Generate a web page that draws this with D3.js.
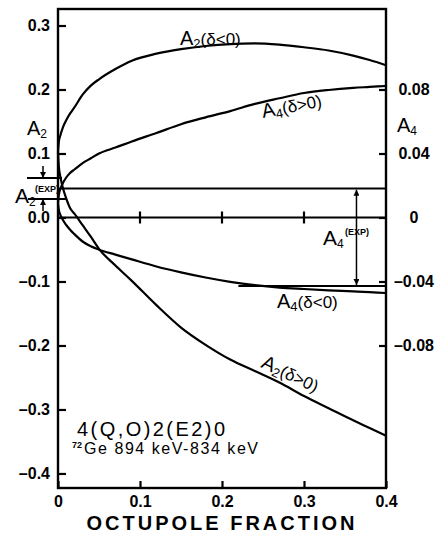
<!DOCTYPE html>
<html><head><meta charset="utf-8">
<script src="https://cdn.jsdelivr.net/npm/d3@7"></script>
<style>
body{margin:0;background:#fff}
svg{display:block}
text{font-family:"Liberation Sans",Arial,sans-serif;fill:#000}
</style>
</head><body>
<svg id="c" width="438" height="533"></svg>
<script>
// ---- data ----
const fraction = [0, 0.001, 0.003, 0.006, 0.01, 0.015, 0.02, 0.03, 0.04, 0.05, 0.07, 0.09, 0.12, 0.15, 0.18, 0.21, 0.24, 0.27, 0.30, 0.33, 0.36, 0.38, 0.40];
const a2DeltaNeg = [0.102, 0.118, 0.129, 0.141, 0.152, 0.163, 0.172, 0.192, 0.206, 0.216, 0.232, 0.245, 0.256, 0.263, 0.268, 0.271, 0.272, 0.270, 0.266, 0.261, 0.253, 0.246, 0.238];
const a2DeltaPos = [0.102, 0.080, 0.063, 0.046, 0.030, 0.014, 0.006, -0.012, -0.030, -0.049, -0.075, -0.099, -0.137, -0.172, -0.199, -0.222, -0.240, -0.258, -0.279, -0.298, -0.317, -0.329, -0.341];
const a4DeltaPos = [0.009, 0.014, 0.018, 0.0215, 0.025, 0.028, 0.030, 0.034, 0.037, 0.040, 0.0437, 0.0475, 0.0528, 0.0583, 0.0626, 0.0665, 0.071, 0.0745, 0.0778, 0.0797, 0.081, 0.0816, 0.0822];
const a4DeltaNeg = [0.009, 0.0047, 0.0015, -0.0016, -0.0047, -0.0078, -0.0104, -0.0150, -0.0180, -0.0201, -0.0232, -0.0262, -0.0306, -0.0343, -0.0375, -0.0402, -0.0423, -0.0438, -0.0447, -0.0455, -0.0462, -0.0467, -0.0472];

const xTicks = [0, 0.1, 0.2, 0.3, 0.4];
const xTickLabels = ["0", "0.1", "0.2", "0.3", "0.4"];
const a2Ticks = [0.3, 0.2, 0.1, 0, -0.1, -0.2, -0.3, -0.4];
const a2TickLabels = ["0.3", "0.2", "0.1", "0.0", "\u20130.1", "\u20130.2", "\u20130.3", "\u20130.4"];
const a4Ticks = [0.08, 0.04, 0, -0.04, -0.08];
const a4TickLabels = ["0.08", "0.04", "0", "\u20130.04", "\u20130.08"];
const zeroLineTicks = [0.1, 0.2, 0.3];

const a2Exp = 0.0453, a2ExpHi = 0.0617, a2ExpLo = 0.0289;
const a4ExpHi = 0.018, a4ExpLo = -0.0428;

// ---- scales ----
const svg = d3.select("#c");
const x = d3.scaleLinear([0, 0.4], [58, 386]);
const yA2 = d3.scaleLinear([-0.4227, 0.3258], [488, 9]);
const yA4 = d3.scaleLinear([-0.16906, 0.13031], [488, 9]);

const SW = 2.2;

// frame
svg.append("rect").attr("x", x(0)).attr("y", yA2(0.3258)).attr("width", x(0.4) - x(0)).attr("height", yA2(-0.4227) - yA2(0.3258))
  .attr("fill", "none").attr("stroke", "#000").attr("stroke-width", 2.4);

function styleAxis(g) {
  g.select(".domain").remove();
  g.selectAll(".tick line").attr("stroke", "#000").attr("stroke-width", SW);
  g.selectAll(".tick text").attr("font-size", 16).attr("font-weight", "bold").attr("font-family", "'Liberation Sans',Arial,sans-serif");
}

const gl = svg.append("g").attr("transform", `translate(${x(0)},0)`)
  .call(d3.axisLeft(yA2).tickValues(a2Ticks).tickFormat((d, i) => a2TickLabels[i]).tickSize(-8).tickPadding(8));
styleAxis(gl);

const gr = svg.append("g").attr("transform", `translate(${x(0.4)},0)`)
  .call(d3.axisRight(yA4).tickValues(a4Ticks).tickFormat((d, i) => a4TickLabels[i]).tickSize(-7).tickPadding(8));
styleAxis(gr);
gr.selectAll(".tick text").attr("x", 28).attr("text-anchor", "middle");

const gb = svg.append("g").attr("transform", `translate(0,${yA2(-0.4227)})`)
  .call(d3.axisBottom(x).tickValues(xTicks).tickFormat((d, i) => xTickLabels[i]).tickSize(-7).tickPadding(8));
styleAxis(gb);

// zero line with ticks
svg.append("line").attr("x1", x(0)).attr("x2", x(0.4)).attr("y1", yA2(0)).attr("y2", yA2(0))
  .attr("stroke", "#000").attr("stroke-width", SW);
svg.selectAll(".zt").data(zeroLineTicks).join("line")
  .attr("x1", d => x(d)).attr("x2", d => x(d)).attr("y1", yA2(0) - 6).attr("y2", yA2(0) + 6)
  .attr("stroke", "#000").attr("stroke-width", SW);

// experimental lines
svg.append("line").attr("x1", x(0)).attr("x2", x(0.4)).attr("y1", yA2(a2Exp)).attr("y2", yA2(a2Exp))
  .attr("stroke", "#000").attr("stroke-width", SW);
svg.append("line").attr("x1", x(0) - 31).attr("x2", x(0) + 4).attr("y1", yA2(a2ExpHi)).attr("y2", yA2(a2ExpHi))
  .attr("stroke", "#000").attr("stroke-width", 1.8);
svg.append("line").attr("x1", x(0) - 30).attr("x2", x(0) + 9).attr("y1", yA2(a2ExpLo)).attr("y2", yA2(a2ExpLo))
  .attr("stroke", "#000").attr("stroke-width", 1.8);
svg.append("line").attr("x1", x(0.22)).attr("x2", x(0.4)).attr("y1", yA4(a4ExpLo)).attr("y2", yA4(a4ExpLo))
  .attr("stroke", "#000").attr("stroke-width", 1.8);

// arrowheads
const defs = svg.append("defs");
defs.append("marker").attr("id", "ah").attr("viewBox", "0 0 10 10").attr("refX", 10).attr("refY", 5)
  .attr("markerWidth", 6).attr("markerHeight", 6).attr("markerUnits", "userSpaceOnUse").attr("orient", "auto-start-reverse")
  .append("path").attr("d", "M0,0L10,5L0,10Z").attr("fill", "#000");

const ax = x(0) - 15;
svg.append("line").attr("x1", ax).attr("x2", ax).attr("y1", yA2(a2ExpHi) - 12).attr("y2", yA2(a2ExpHi))
  .attr("stroke", "#000").attr("stroke-width", 1.5).attr("marker-end", "url(#ah)");
svg.append("line").attr("x1", ax).attr("x2", ax).attr("y1", yA2(a2ExpLo) + 12).attr("y2", yA2(a2ExpLo))
  .attr("stroke", "#000").attr("stroke-width", 1.5).attr("marker-end", "url(#ah)");

const bx = x(0.364);
svg.append("line").attr("x1", bx).attr("x2", bx).attr("y1", yA4(a4ExpHi) + 1).attr("y2", yA4(a4ExpLo) - 1)
  .attr("stroke", "#000").attr("stroke-width", 1.5).attr("marker-start", "url(#ah)").attr("marker-end", "url(#ah)");

// curves
const lineA2 = d3.line().x((d, i) => x(fraction[i])).y(d => yA2(d)).curve(d3.curveMonotoneX);
const lineA4 = d3.line().x((d, i) => x(fraction[i])).y(d => yA4(d)).curve(d3.curveMonotoneX);
[[a2DeltaNeg, lineA2], [a2DeltaPos, lineA2], [a4DeltaPos, lineA4], [a4DeltaNeg, lineA4]].forEach(([d, l]) => {
  svg.append("path").attr("d", l(d)).attr("fill", "none").attr("stroke", "#000").attr("stroke-width", SW);
});

// label helper: parts = [[text, size, dy]]
function label(px, py, parts, rot, weight) {
  const t = svg.append("text").attr("transform", `translate(${px},${py}) rotate(${rot || 0})`)
    .attr("font-weight", weight || "normal");
  parts.forEach(([s, fs, dy]) => t.append("tspan").text(s).attr("font-size", fs).attr("dy", dy || 0));
  return t;
}

label(27, 135, [["A", 20], ["2", 12, 3]]);
label(397, 132, [["A", 20], ["4", 12, 3]]);
label(180, 45, [["A", 20], ["2", 13, 3], ["(\u03b4<0)", 17, -3]]);
label(263, 118, [["A", 20], ["4", 13, 3], ["(\u03b4>0)", 17, -3]], -11);
label(277, 308, [["A", 20], ["4", 13, 3], ["(\u03b4<0)", 17, -3]]);
label(260, 367, [["A", 20], ["2", 13, 3], ["(\u03b4>0)", 17, -3]], 25);

label(15, 203, [["A", 21], ["2", 12, 3]]);
svg.append("text").attr("x", 35).attr("y", 192).attr("font-size", 9).attr("font-weight", "bold").text("(EXP)");
label(323, 245, [["A", 21], ["4", 12, 3]]);
svg.append("text").attr("x", 345).attr("y", 235).attr("font-size", 9).attr("font-weight", "bold").text("(EXP)");

svg.append("text").attr("x", 77).attr("y", 436).attr("font-size", 20).attr("textLength", 148).attr("lengthAdjust", "spacing").text("4(Q,O)2(E2)0");
svg.append("text").attr("x", 72).attr("y", 448).attr("font-size", 9).attr("font-weight", "bold").text("72");
svg.append("text").attr("x", 84).attr("y", 454).attr("font-size", 16).attr("textLength", 174).attr("lengthAdjust", "spacing").text("Ge 894 keV-834 keV");

svg.append("text").attr("x", 222).attr("y", 530).attr("font-size", 20).attr("font-weight", "bold")
  .attr("text-anchor", "middle").attr("letter-spacing", 3).text("OCTUPOLE FRACTION");
</script>
</body></html>
